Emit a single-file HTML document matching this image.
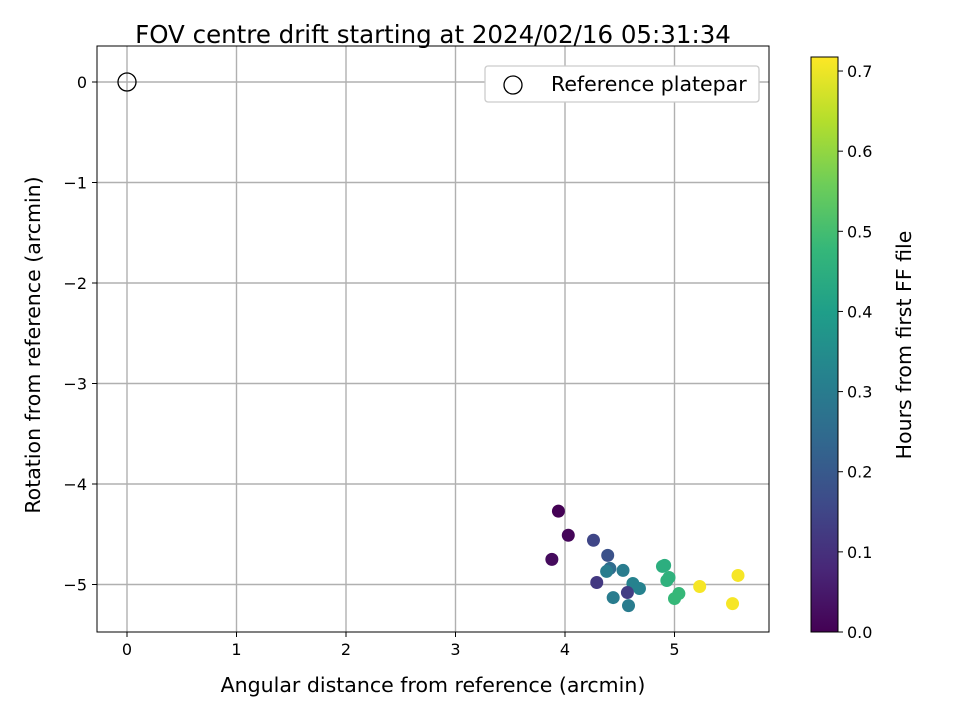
<!DOCTYPE html>
<html><head><meta charset="utf-8"><style>
body{margin:0;background:#fff}
svg text{font-family:"DejaVu Sans","Liberation Sans",sans-serif;fill:#000}
</style></head><body>
<svg id="c" width="960" height="720"></svg>
<script>
const xs=[3.94,4.03,3.88,4.26,4.39,4.41,4.38,4.53,4.29,4.62,4.68,4.57,4.44,4.58,4.91,4.89,4.95,4.93,5.04,5.00,5.23,5.58,5.53];
const ys=[-4.27,-4.51,-4.75,-4.56,-4.71,-4.84,-4.87,-4.86,-4.98,-4.99,-5.04,-5.08,-5.13,-5.21,-4.81,-4.82,-4.93,-4.96,-5.09,-5.14,-5.02,-4.91,-5.19];
const hours=[0.0,0.01,0.02,0.15,0.18,0.25,0.3,0.3,0.12,0.32,0.32,0.13,0.3,0.3,0.45,0.45,0.46,0.46,0.48,0.48,0.71,0.71,0.71];
const xTicks=[0,1,2,3,4,5];
const yTicks=[0,-1,-2,-3,-4,-5];
const cTicks=[0,0.1,0.2,0.3,0.4,0.5,0.6,0.7];
const L=97,R=769,T=46,B=632;
const X=v=>127+v*109.5, Y=v=>82-v*100.5;
const cmin=0,cmax=0.7175,CY=v=>632-(v-cmin)/(cmax-cmin)*575;
const vir=[[68,1,84],[72,40,120],[62,74,137],[49,104,142],[38,130,142],[31,158,137],[53,183,121],[109,205,89],[180,222,44],[253,231,37]];
function col(t){t=Math.max(0,Math.min(1,t))*(vir.length-1);const i=Math.min(Math.floor(t),vir.length-2),f=t-i;const a=vir[i],b=vir[i+1];return `rgb(${a.map((v,k)=>Math.round(v+(b[k]-v)*f)).join(',')})`;}
const s=document.getElementById('c');const NS='http://www.w3.org/2000/svg';
function el(t,a,p){const e=document.createElementNS(NS,t);for(const k in a)e.setAttribute(k,a[k]);(p||s).appendChild(e);return e;}
function tx(x,y,str,a){const e=el('text',Object.assign({x:x,y:y},a||{}));e.textContent=str;return e;}
xTicks.forEach(v=>{const g=el('line',{x1:X(v),x2:X(v),y1:T,y2:B,stroke:'#b0b0b0','stroke-width':1.4});

el('line',{x1:X(v),x2:X(v),y1:B,y2:B+5,stroke:'#000'});
const t=tx(X(v),B+23,String(v),{'text-anchor':'middle','font-size':'16'});
});
yTicks.forEach(v=>{const g=el('line',{x1:L,x2:R,y1:Y(v),y2:Y(v),stroke:'#b0b0b0','stroke-width':1.4});

el('line',{x1:L-5,x2:L,y1:Y(v),y2:Y(v),stroke:'#000'});
const t=tx(L-10,Y(v)+6,v===0?'0':'\u2212'+Math.abs(v),{'text-anchor':'end','font-size':'16'});
});
const rc=el('circle',{cx:X(0),cy:Y(0),r:9,fill:'none',stroke:'#000','stroke-width':1.3});

xs.forEach((v,i)=>{const c=el('circle',{cx:X(v),cy:Y(ys[i]),r:6.5,fill:col(hours[i]/cmax)});
});
const fr=el('rect',{x:L,y:T,width:R-L,height:B-T,fill:'none',stroke:'#000','stroke-width':1});

const lg=el('g',{});
el('rect',{x:485,y:66,width:274,height:36,rx:3,fill:'#fff',stroke:'#ccc','stroke-width':1.3},lg);
el('circle',{cx:513,cy:85,r:9,fill:'none',stroke:'#000','stroke-width':1.3},lg);
tx(551,91,'Reference platepar',{'font-size':'20.5'});
const defs=el('defs',{});const gr=el('linearGradient',{id:'vg',x1:0,y1:1,x2:0,y2:0},defs);
vir.forEach((c,i)=>el('stop',{offset:i/(vir.length-1),'stop-color':`rgb(${c.join(',')})`},gr));
const cb=el('rect',{x:811,y:57,width:27,height:575,fill:'url(#vg)',stroke:'#000','stroke-width':1});

cTicks.forEach(v=>{el('line',{x1:838,x2:843,y1:CY(v),y2:CY(v),stroke:'#000'});
const t=tx(847,CY(v)+6,v.toFixed(1),{'font-size':'16'});
});
let t;
t=tx(433,43,'FOV centre drift starting at 2024/02/16 05:31:34',{'text-anchor':'middle','font-size':'24.5'});
t=tx(433,692,'Angular distance from reference (arcmin)',{'text-anchor':'middle','font-size':'20.5'});
t=tx(0,0,'Rotation from reference (arcmin)',{'text-anchor':'middle','font-size':'20.5',transform:'translate(40,345) rotate(-90)'});
t=tx(0,0,'Hours from first FF file',{'text-anchor':'middle','font-size':'20.5',transform:'translate(911,345) rotate(-90)'});
</script>
</body></html>
